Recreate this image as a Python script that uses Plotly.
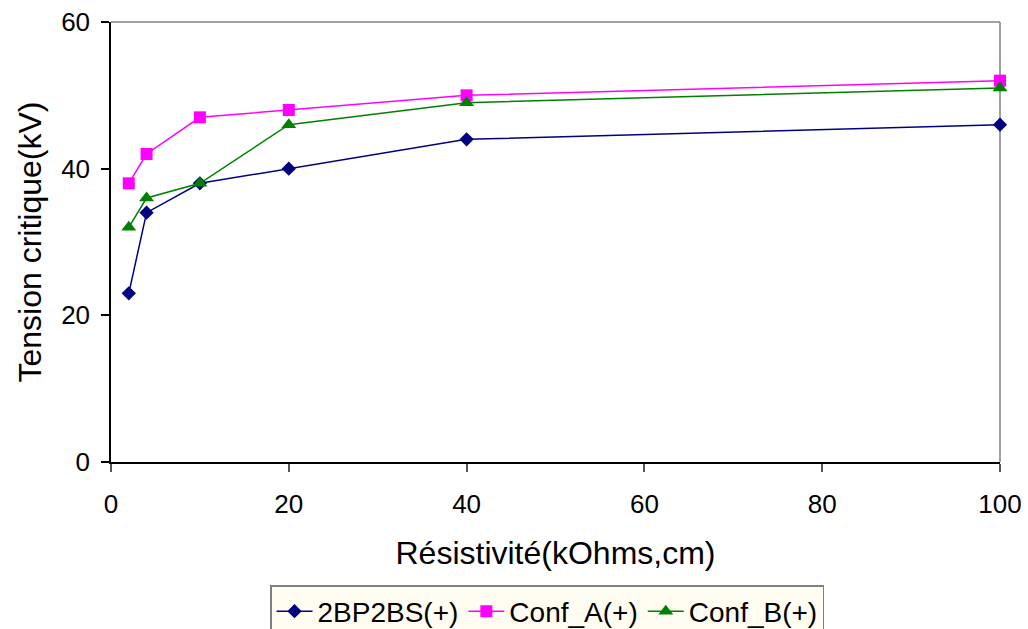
import plotly.graph_objects as go

resistivity = [2, 4, 10, 20, 40, 100]
s_2bp2bs = [23, 34, 38, 40, 44, 46]
s_conf_a = [38, 42, 47, 48, 50, 52]
s_conf_b = [32, 36, 38, 46, 49, 51]

series = [
    ("2BP2BS(+)", s_2bp2bs, "#000080", "diamond", 11),
    ("Conf_A(+)", s_conf_a, "#FF00FF", "square", 12),
    ("Conf_B(+)", s_conf_b, "#008000", "triangle-up", 13),
]

fig = go.Figure()
for name, ys, col, sym, sz in series:
    fig.add_trace(go.Scatter(
        x=resistivity, y=ys, name=name, mode="lines+markers",
        line=dict(color=col, width=1.5),
        marker=dict(color=col, symbol=sym, size=sz, line=dict(width=0)),
        cliponaxis=False,
    ))

font = "Liberation Sans, Arial, sans-serif"
fig.update_layout(
    width=1028, height=629,
    margin=dict(l=111, r=28, t=22, b=167),
    paper_bgcolor="white", plot_bgcolor="white",
    font=dict(family=font, color="black", size=26),
    showlegend=True,
    legend=dict(
        orientation="h", x=270 / 1028, xref="container", xanchor="left",
        y=(629 - 585) / 629, yref="container", yanchor="top",
        bgcolor="#FFFCF2", bordercolor="#808080", borderwidth=1.5,
        font=dict(size=28), itemwidth=36, tracegroupgap=0,
    ),
    xaxis=dict(
        range=[0, 100], tickvals=[0, 20, 40, 60, 80, 100],
        showgrid=False, zeroline=False, automargin=False,
        showline=True, linecolor="black", linewidth=1.5,
        ticks="outside", ticklen=8, tickcolor="#555555", tickwidth=1.5,
        tickfont=dict(size=26), ticklabelstandoff=10,
        title=dict(text="Résistivité(kOhms,cm)", font=dict(size=32), standoff=24),
    ),
    yaxis=dict(
        range=[0, 60], tickvals=[0, 20, 40, 60],
        showgrid=False, zeroline=False, automargin=False,
        showline=True, linecolor="black", linewidth=1.5,
        ticks="outside", ticklen=8, tickcolor="black", tickwidth=1.5,
        tickfont=dict(size=26), ticklabelstandoff=6,
        title=dict(text="Tension critique(kV)", font=dict(size=32), standoff=10),
    ),
    shapes=[
        dict(type="line", xref="paper", yref="paper", x0=0, x1=1, y0=1, y1=1,
             line=dict(color="#808080", width=1.5), layer="below"),
        dict(type="line", xref="paper", yref="paper", x0=1, x1=1, y0=0, y1=1,
             line=dict(color="#808080", width=1.5), layer="below"),
    ],
)

fig.write_html(
    "out.html",
    config={"displayModeBar": False},
    post_script="document.body.style.margin='0';document.body.style.overflow='hidden';",
)
